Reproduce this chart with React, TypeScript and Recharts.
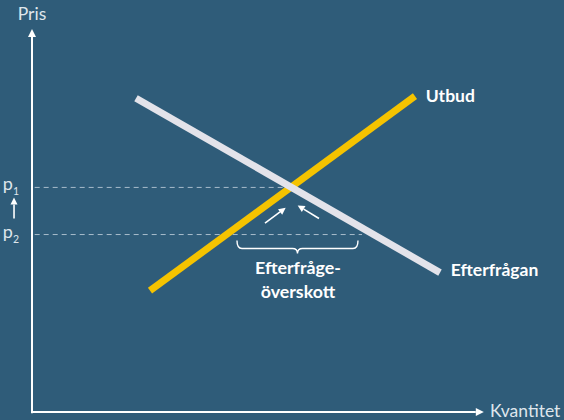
import React from "react";
import { ComposedChart, Line, XAxis, YAxis, ReferenceLine, ReferenceDot } from "recharts";

// Supply and demand lines (quantity x, price y)
const supplyLine = [
  { x: 26.46, y: 32.18 },
  { x: 85.87, y: 83.78 },
];
const demandLine = [
  { x: 23.32, y: 83.24 },
  { x: 91.48, y: 36.97 },
];
// Price levels
const priceLevels = [
  { name: "p", sub: "1", y: 59.57, xEnd: 58.07 },
  { name: "p", sub: "2", y: 47.07, xEnd: 74.0 },
];
// Movement arrows toward equilibrium
const moveArrows = [
  { from: { x: 52.24, y: 50.08 }, to: { x: 56.88, y: 54.18 } },
  { from: { x: 64.35, y: 51.33 }, to: { x: 59.57, y: 54.79 } },
];
const priceArrow = { from: { x: -4.03, y: 51.33 }, to: { x: -4.03, y: 56.9 } };
// Brace marking the excess demand
const brace = { x1: 45.96, x2: 73.09, y: 45.48 };
const braceLabel = ["Efterfråge-", "överskott"];
const braceLabelPos = { x: 59.64, y: 36.5 };
// Line labels
const lineLabels = [
  { text: "Utbud", x: 88.3, y: 82.2 },
  { text: "Efterfrågan", x: 93.9, y: 36.2 },
];
const axisTitles = { y: "Pris", x: "Kvantitet" };

const BG = "#2f5c79";
const YELLOW = "#f5c300";
const GRAY = "#e3e3ea";
const WHITE = "#ffffff";
const DASH = "#a9bccb";
const FONT = "Lato, 'Noto Sans', sans-serif";

const ArrowShape = (props: any) => {
  const { x1, y1, x2, y2 } = props;
  const ang = Math.atan2(y2 - y1, x2 - x1);
  const len = 7;
  const w = 3.5;
  const bx = x2 - len * Math.cos(ang);
  const by = y2 - len * Math.sin(ang);
  const px = -Math.sin(ang) * w;
  const py = Math.cos(ang) * w;
  return (
    <g>
      <line x1={x1} y1={y1} x2={bx} y2={by} stroke={WHITE} strokeWidth={1.6} />
      <polygon points={`${x2},${y2} ${bx + px},${by + py} ${bx - px},${by - py}`} fill={WHITE} />
    </g>
  );
};

const AxisShape = (props: any) => {
  const { x1, y1, x2, y2 } = props;
  const ang = Math.atan2(y2 - y1, x2 - x1);
  const len = 8;
  const w = 4;
  const tx = x2 + 4 * Math.cos(ang);
  const ty = y2 + 4 * Math.sin(ang);
  const bx = tx - len * Math.cos(ang);
  const by = ty - len * Math.sin(ang);
  const px = -Math.sin(ang) * w;
  const py = Math.cos(ang) * w;
  return (
    <g>
      <line x1={x1} y1={y1} x2={bx} y2={by} stroke={WHITE} strokeWidth={2} />
      <polygon points={`${tx},${ty} ${bx + px},${by + py} ${bx - px},${by - py}`} fill={WHITE} />
    </g>
  );
};

const BraceShape = (props: any) => {
  const { x1, y1, x2 } = props;
  const xa = Math.min(x1, x2);
  const xb = Math.max(x1, x2);
  const mid = (xa + xb) / 2;
  const top = y1;
  const h = 8;
  const r = 5;
  const d = `M ${xa} ${top} Q ${xa} ${top + h} ${xa + r} ${top + h} L ${mid - r} ${top + h} Q ${mid} ${top + h} ${mid} ${top + h + 5} Q ${mid} ${top + h} ${mid + r} ${top + h} L ${xb - r} ${top + h} Q ${xb} ${top + h} ${xb} ${top}`;
  return <path d={d} fill="none" stroke={WHITE} strokeWidth={1.4} />;
};

export default function App() {
  return (
    <div style={{ position: "absolute", left: 0, top: 0, width: 564, height: 420, background: BG }}>
      <ComposedChart
        width={564}
        height={420}
        margin={{ top: 35, right: 86, bottom: 8, left: 32 }}
      >
        <XAxis type="number" dataKey="x" domain={[0, 100]} hide allowDataOverflow />
        <YAxis type="number" dataKey="y" domain={[0, 100]} hide allowDataOverflow />
        {priceLevels.map((p, i) => (
          <ReferenceLine
            key={"pl" + i}
            segment={[
              { x: 0.6, y: p.y },
              { x: p.xEnd, y: p.y },
            ]}
            stroke={DASH}
            strokeWidth={1}
            strokeDasharray="5 4"
            ifOverflow="visible"
          />
        ))}
        <ReferenceLine
          segment={[
            { x: 0, y: -0.3 },
            { x: 0, y: 100.5 },
          ]}
          ifOverflow="visible"
          shape={(p: any) => <AxisShape {...p} />}
        />
        <ReferenceLine
          segment={[
            { x: -0.2, y: 0 },
            { x: 100.4, y: 0 },
          ]}
          ifOverflow="visible"
          shape={(p: any) => <AxisShape {...p} />}
        />
        <Line
          data={supplyLine}
          dataKey="y"
          stroke={YELLOW}
          strokeWidth={7}
          dot={false}
          activeDot={false}
          isAnimationActive={false}
        />
        <Line
          data={demandLine}
          dataKey="y"
          stroke={GRAY}
          strokeWidth={7}
          dot={false}
          activeDot={false}
          isAnimationActive={false}
        />
        {moveArrows.map((a, i) => (
          <ReferenceLine
            key={"ma" + i}
            segment={[a.from, a.to]}
            ifOverflow="visible"
            shape={(p: any) => <ArrowShape {...p} />}
          />
        ))}
        <ReferenceLine
          segment={[priceArrow.from, priceArrow.to]}
          ifOverflow="visible"
          shape={(p: any) => <ArrowShape {...p} />}
        />
        <ReferenceLine
          segment={[
            { x: brace.x1, y: brace.y },
            { x: brace.x2, y: brace.y },
          ]}
          ifOverflow="visible"
          shape={(p: any) => <BraceShape {...p} />}
        />
        <ReferenceDot
          x={braceLabelPos.x}
          y={braceLabelPos.y}
          r={0}
          ifOverflow="visible"
          shape={(p: any) => (
            <text x={p.cx} y={p.cy} textAnchor="middle" fill={WHITE} fontFamily={FONT} fontWeight={700} fontSize={17.8}>
              <tspan x={p.cx} dy={0}>{braceLabel[0]}</tspan>
              <tspan x={p.cx} dy={24}>{braceLabel[1]}</tspan>
            </text>
          )}
        />
        {lineLabels.map((l, i) => (
          <ReferenceDot
            key={"ll" + i}
            x={l.x}
            y={l.y}
            r={0}
            ifOverflow="visible"
            shape={(p: any) => (
              <text x={p.cx} y={p.cy} textAnchor="start" fill={WHITE} fontFamily={FONT} fontWeight={700} fontSize={17.5}>
                {l.text}
              </text>
            )}
          />
        ))}
        {priceLevels.map((p, i) => (
          <ReferenceDot
            key={"pt" + i}
            x={-5.2}
            y={p.y}
            r={0}
            ifOverflow="visible"
            shape={(q: any) => (
              <text x={q.cx - 6} y={q.cy + 3} fill="#dfe6ec" fontFamily={FONT} fontSize={18}>
                {p.name}
                <tspan fontSize={10.5} dy={5}>{p.sub}</tspan>
              </text>
            )}
          />
        ))}
        <ReferenceDot
          x={-3.2}
          y={103.9}
          r={0}
          ifOverflow="visible"
          shape={(q: any) => (
            <text x={q.cx} y={q.cy} fill="#dfe6ec" fontFamily={FONT} fontSize={17.5}>
              {axisTitles.y}
            </text>
          )}
        />
        <ReferenceDot
          x={102.7}
          y={-1.3}
          r={0}
          ifOverflow="visible"
          shape={(q: any) => (
            <text x={q.cx} y={q.cy} fill="#dfe6ec" fontFamily={FONT} fontSize={17.5}>
              {axisTitles.x}
            </text>
          )}
        />
      </ComposedChart>
    </div>
  );
}
